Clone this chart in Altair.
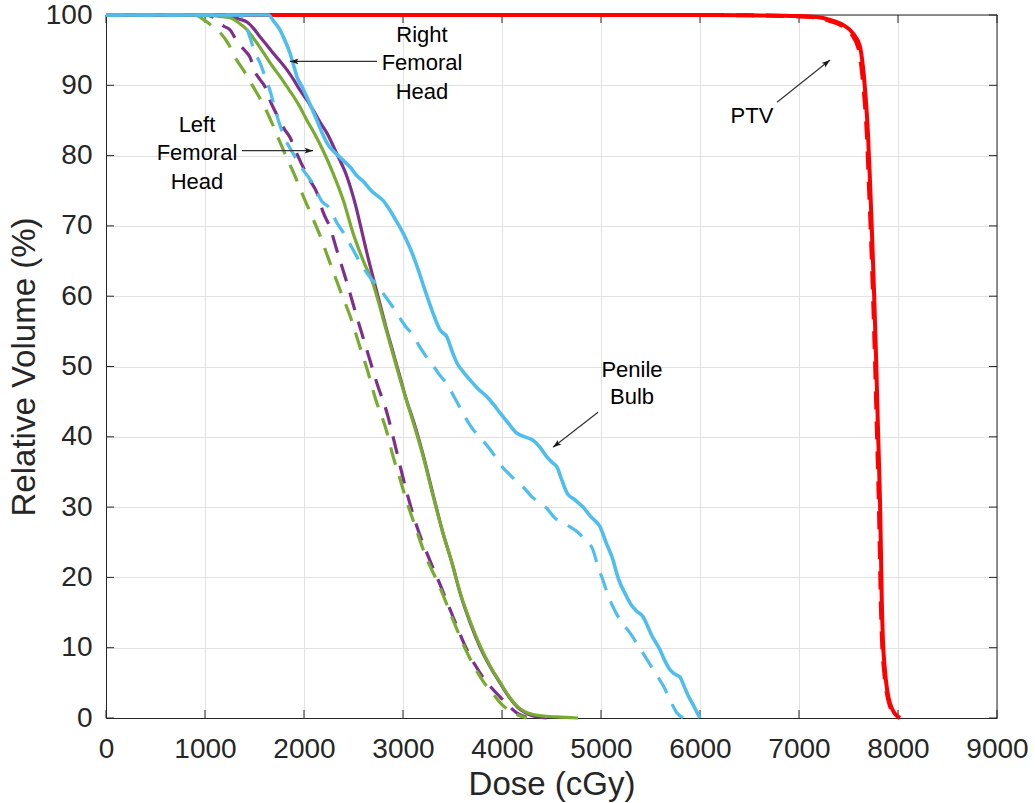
import math
import altair as alt
import pandas as pd

# ---- Dose-volume histogram data (dose in cGy, relative volume in %) ----
# PTV, plan A (solid) and plan B (dashed)
ptv_a_dose = [0, 3000, 6000, 6500, 7000, 7180, 7313, 7444, 7545, 7616, 7646, 7672, 7697,
              7718, 7737, 7757, 7778, 7798, 7818, 7828, 7836, 7848, 7868, 7890, 7919,
              7955, 7990, 8020]
ptv_a_vol = [100, 100, 100, 99.95, 99.85, 99.7, 99.3, 98.6, 97.4, 95.5, 92.6, 88.5, 83.0,
             76.0, 69.0, 61.0, 51.5, 41.0, 31.0, 23.5, 16.8, 11.0, 6.8, 4.0, 2.1,
             0.9, 0.3, 0.0]
ptv_b_dose = [0, 3000, 6000, 6500, 7000, 7180, 7300, 7430, 7530, 7600, 7632, 7660, 7686,
              7706, 7726, 7746, 7767, 7787, 7806, 7817, 7826, 7839, 7860, 7884, 7912,
              7950, 7985, 8015]
ptv_b_vol = [100, 100, 100, 99.95, 99.8, 99.65, 99.2, 98.5, 97.3, 95.3, 92.4, 88.3, 82.8,
             75.8, 68.8, 60.8, 51.2, 40.8, 30.8, 23.2, 16.6, 10.8, 6.6, 3.8, 2.0,
             0.8, 0.25, 0.0]

# Right femoral head
rfh_a_dose = [0, 1100, 1200, 1283, 1350, 1424, 1490, 1555, 1620, 1687, 1760, 1828, 1900,
              1960, 2030, 2091, 2160, 2232, 2330, 2434, 2520, 2596, 2650, 2697, 2760,
              2830, 2900, 2970, 3040, 3100, 3200, 3300, 3400, 3500, 3576, 3680, 3778,
              3880, 3980, 4070, 4152, 4230, 4313, 4400, 4450]
rfh_a_vol = [100, 100, 99.9, 99.7, 99.4, 99.0, 98.1, 96.9, 95.8, 94.6, 93.4, 92.2, 90.7,
             89.3, 87.9, 86.5, 84.8, 83.2, 80.3, 77.0, 73.0, 68.5, 65.3, 62.7, 59.3,
             55.5, 52.0, 48.5, 45.0, 42.5, 37.6, 32.0, 26.5, 21.8, 17.8, 13.5, 10.1,
             7.3, 5.0, 3.0, 1.6, 0.8, 0.3, 0.1, 0.0]
rfh_b_dose = [0, 1000, 1080, 1131, 1190, 1252, 1333, 1400, 1454, 1505, 1556, 1606, 1656,
              1737, 1800, 1858, 1920, 1990, 2060, 2131, 2192, 2262, 2333, 2434, 2535,
              2636, 2737, 2838, 2939, 3040, 3141, 3260, 3374, 3505, 3646, 3730, 3808,
              3900, 3980, 4070, 4152, 4230, 4300]
rfh_b_vol = [100, 100, 99.7, 99.0, 98.4, 97.9, 96.0, 95.0, 94.0, 91.9, 90.8, 89.8, 87.9,
             85.5, 83.8, 82.6, 80.5, 78.4, 76.5, 74.7, 72.0, 69.8, 66.5, 61.9, 57.0,
             52.3, 47.6, 43.4, 37.7, 32.0, 27.2, 22.8, 19.0, 14.4, 9.7, 7.5, 5.8,
             4.2, 3.0, 1.7, 0.7, 0.2, 0.0]

# Left femoral head
lfh_a_dose = [0, 950, 1050, 1150, 1252, 1340, 1424, 1490, 1555, 1620, 1687, 1760, 1828,
              1900, 1960, 2030, 2100, 2190, 2293, 2400, 2495, 2600, 2697, 2760, 2830,
              2900, 2970, 3100, 3200, 3300, 3400, 3500, 3576, 3680, 3778, 3880, 3980,
              4070, 4152, 4230, 4313, 4400, 4550, 4768]
lfh_a_vol = [100, 100, 99.95, 99.8, 99.6, 98.9, 97.9, 96.7, 95.4, 94.0, 92.6, 91.2, 89.8,
             88.3, 86.9, 85.0, 83.3, 80.8, 77.5, 73.5, 69.0, 65.0, 61.8, 58.8, 55.2,
             51.7, 48.2, 42.2, 37.4, 31.8, 26.5, 21.8, 17.9, 13.7, 10.3, 7.4, 5.1,
             3.1, 1.7, 0.9, 0.5, 0.3, 0.15, 0.0]
lfh_b_dose = [0, 900, 960, 1020, 1090, 1151, 1232, 1303, 1404, 1474, 1576, 1656, 1740,
              1828, 1900, 1960, 2030, 2091, 2160, 2230, 2300, 2380, 2470, 2560, 2640,
              2720, 2830, 2900, 2970, 3020, 3120, 3230, 3360, 3490, 3630, 3720, 3820,
              3900, 3980, 4060, 4150, 4250]
lfh_b_vol = [100, 100, 99.6, 99.0, 98.2, 97.5, 96.0, 94.0, 91.8, 90.1, 87.6, 85.3, 82.5,
             79.6, 77.4, 75.3, 73.0, 71.0, 68.7, 66.0, 63.3, 60.3, 57.0, 53.0, 49.5,
             45.5, 41.0, 37.2, 34.0, 31.6, 27.4, 23.0, 19.0, 14.5, 9.8, 7.3, 5.0,
             3.6, 2.2, 1.2, 0.5, 0.0]

# Penile bulb
pb_a_dose = [0, 1640, 1700, 1757, 1810, 1858, 1900, 1929, 1980, 2030, 2080, 2131, 2190,
             2250, 2300, 2360, 2420, 2470, 2530, 2600, 2680, 2750, 2800, 2860, 2920,
             3000, 3060, 3110, 3172, 3230, 3303, 3374, 3444, 3500, 3545, 3610, 3677,
             3760, 3848, 3920, 3980, 4060, 4152, 4230, 4313, 4390, 4455, 4510, 4556,
             4600, 4657, 4740, 4818, 4900, 4990, 5050, 5121, 5160, 5192, 5240, 5300,
             5360, 5424, 5470, 5510, 5560, 5596, 5640, 5690, 5740, 5798, 5840, 5880,
             5930, 5970, 6000]
pb_a_vol = [100, 100, 99.0, 97.9, 96.3, 94.6, 92.6, 91.2, 89.8, 88.3, 86.7, 85.0, 83.0,
            81.4, 80.6, 79.8, 79.0, 78.3, 77.2, 76.3, 75.0, 74.2, 73.6, 72.4, 71.0,
            69.0, 67.2, 65.5, 63.0, 60.5, 57.6, 55.2, 54.2, 52.0, 50.5, 49.2, 48.1,
            46.8, 45.7, 44.5, 43.4, 42.0, 40.5, 40.0, 39.5, 38.4, 37.1, 36.3, 35.7,
            34.0, 32.0, 31.0, 30.0, 28.6, 27.2, 25.0, 22.5, 20.5, 19.2, 17.8, 16.2,
            15.2, 14.4, 13.1, 11.8, 10.6, 9.7, 8.3, 7.0, 6.3, 5.8, 4.5, 3.2,
            1.9, 0.8, 0.0]
pb_b_dose = [0, 1350, 1450, 1505, 1556, 1600, 1656, 1720, 1790, 1890, 1990, 2090, 2180,
             2260, 2330, 2400, 2500, 2570, 2650, 2740, 2820, 2900, 2950, 3020, 3100,
             3160, 3230, 3300, 3370, 3440, 3520, 3600, 3680, 3750, 3810, 3880, 3950,
             4010, 4080, 4150, 4210, 4300, 4380, 4455, 4530, 4600, 4687, 4760, 4830,
             4919, 4970, 5020, 5070, 5121, 5200, 5293, 5380, 5465, 5550, 5636, 5700,
             5768, 5830]
pb_b_vol = [100, 100, 97.0, 94.6, 93.2, 91.5, 89.3, 86.0, 83.0, 80.3, 78.0, 76.0, 73.5,
            72.5, 70.5, 69.0, 66.5, 64.7, 63.0, 61.5, 60.0, 58.4, 57.3, 55.8, 54.5,
            53.0, 51.5, 50.2, 48.8, 47.6, 45.6, 43.5, 41.6, 40.3, 39.4, 38.2, 36.8,
            35.6, 34.6, 33.6, 32.9, 31.5, 30.6, 29.8, 28.5, 27.8, 27.2, 26.5, 25.5,
            23.9, 21.5, 19.6, 17.5, 15.8, 13.8, 12.1, 10.2, 8.3, 6.4, 4.4, 2.5,
            0.7, 0.0]

# (name, doses, volumes, colour, dashed, width) in drawing order
series = [
    ("PTV A", ptv_a_dose, ptv_a_vol, "#FF0000", False, 4.0),
    ("PTV B", ptv_b_dose, ptv_b_vol, "#FF0000", True, 4.0),
    ("RFH A", rfh_a_dose, rfh_a_vol, "#7E2F8E", False, 3.2),
    ("RFH B", rfh_b_dose, rfh_b_vol, "#7E2F8E", True, 3.2),
    ("LFH A", lfh_a_dose, lfh_a_vol, "#77AC30", False, 3.2),
    ("LFH B", lfh_b_dose, lfh_b_vol, "#77AC30", True, 3.2),
    ("PB B", pb_b_dose, pb_b_vol, "#4DBEEE", True, 3.2),
    ("PB A", pb_a_dose, pb_a_vol, "#4DBEEE", False, 3.6),
]

# Annotation labels (one row per text line) and arrows (tail -> head)
label_text = ["Right", "Femoral", "Head", "Left", "Femoral", "Head", "Penile", "Bulb", "PTV"]
label_dose = [3192, 3192, 3192, 919, 919, 919, 5313, 5313, 6525]
label_vol = [97.2, 93.2, 89.0, 84.4, 80.4, 76.2, 49.5, 45.7, 85.6]

arrow_tail_dose = [2737, 1374, 4970, 6778]
arrow_tail_vol = [93.4, 80.7, 43.5, 87.6]
arrow_head_dose = [1859, 2091, 4515, 7313]
arrow_head_vol = [93.4, 80.7, 38.5, 93.6]

x_ticks = list(range(0, 9001, 1000))
y_ticks = list(range(0, 101, 10))

# ---- Layout ----
W, H = 891, 703
X_MAX, Y_MAX = 9000, 100
FONT = "Liberation Sans"
INK = "#262626"

x_enc = alt.X(
    "dose:Q",
    scale=alt.Scale(domain=[0, X_MAX], nice=False, zero=False),
    axis=alt.Axis(
        values=x_ticks, format="d", title="Dose (cGy)", grid=True, ticks=False,
        tickSize=0, labelFontSize=28, labelBaseline="alphabetic", labelPadding=39,
        labelFlush=False, titleFontSize=33, titleX=W / 2, titleY=76,
        titleBaseline="alphabetic", titleAlign="center",
    ),
)
y_enc = alt.Y(
    "vol:Q",
    scale=alt.Scale(domain=[0, Y_MAX], nice=False, zero=False),
    axis=alt.Axis(
        values=y_ticks, format="d", title="Relative Volume (%)", grid=True,
        ticks=False, tickSize=0, labelFontSize=28, labelPadding=14,
        labelFlush=False, labelBaseline="middle", titleFontSize=33,
        titleAngle=270, titleX=-72, titleY=H / 2, titleBaseline="alphabetic",
        titleAlign="center",
    ),
)

layers = []

# Top and right edges of the axes box, drawn beneath the curves
layers.append(alt.Chart(pd.DataFrame({"dose": [0]})).mark_rule(
    color=INK, strokeWidth=1).encode(x=alt.value(0), x2=alt.value(W), y=alt.value(0)))
layers.append(alt.Chart(pd.DataFrame({"dose": [0]})).mark_rule(
    color=INK, strokeWidth=1).encode(x=alt.value(W), y=alt.value(0), y2=alt.value(H)))

# Inward tick marks on all four sides of the box
xt = pd.DataFrame({"dose": x_ticks})
yt = pd.DataFrame({"vol": y_ticks})
TL = 8
layers.append(alt.Chart(xt).mark_rule(color=INK, strokeWidth=1).encode(
    x=x_enc, y=alt.value(H), y2=alt.value(H - TL)))
layers.append(alt.Chart(xt).mark_rule(color=INK, strokeWidth=1).encode(
    x=x_enc, y=alt.value(0), y2=alt.value(TL)))
layers.append(alt.Chart(yt).mark_rule(color=INK, strokeWidth=1).encode(
    y=y_enc, x=alt.value(0), x2=alt.value(TL)))
layers.append(alt.Chart(yt).mark_rule(color=INK, strokeWidth=1).encode(
    y=y_enc, x=alt.value(W - TL), x2=alt.value(W)))

for name, d, v, col, dashed, w in series:
    df = pd.DataFrame({"dose": d, "vol": v})
    mk = dict(color=col, strokeWidth=w, interpolate="monotone", clip=False)
    if dashed:
        mk["strokeDash"] = [18, 12]
    layers.append(alt.Chart(df).mark_line(**mk).encode(x=x_enc, y=y_enc))

# Annotation text
lab = pd.DataFrame({"dose": label_dose, "vol": label_vol, "txt": label_text})
layers.append(alt.Chart(lab).mark_text(
    font=FONT, fontSize=22, color="#000000", align="center", baseline="middle"
).encode(x=x_enc, y=y_enc, text="txt:N"))

# Arrows: shaft plus a rotated arrowhead at the head point
px_per_dose = W / X_MAX
px_per_vol = H / Y_MAX
angles = []
for td, tv, hd, hv in zip(arrow_tail_dose, arrow_tail_vol, arrow_head_dose, arrow_head_vol):
    dx = (hd - td) * px_per_dose
    dy = -(hv - tv) * px_per_vol
    angles.append(math.degrees(math.atan2(dx, -dy)) % 360)

arr = pd.DataFrame({
    "dose": arrow_tail_dose, "vol": arrow_tail_vol,
    "dose2": arrow_head_dose, "vol2": arrow_head_vol,
})
layers.append(alt.Chart(arr).mark_rule(color="#333333", strokeWidth=1.2).encode(
    x=x_enc, y=y_enc, x2="dose2:Q", y2="vol2:Q"))

heads = pd.DataFrame({"dose": arrow_head_dose, "vol": arrow_head_vol, "ang": angles})
layers.append(alt.Chart(heads).mark_point(
    shape="M0,0 L0.55,1.6 L0,1.25 L-0.55,1.6 Z", filled=True, size=110,
    color="#1a1a1a", opacity=1, strokeWidth=0,
).encode(x=x_enc, y=y_enc, angle=alt.Angle("ang:Q", scale=None)))

chart = alt.layer(*layers).properties(
    width=W,
    height=H,
    autosize=alt.AutoSizeParams(type="none"),
    padding={"left": 106, "top": 15, "right": 38, "bottom": 85},
    background="white",
).configure_view(
    strokeWidth=0
).configure_axis(
    labelFont=FONT, titleFont=FONT, labelColor=INK, titleColor=INK,
    titleFontWeight="normal", domainColor=INK, domainWidth=1,
    gridColor="#e2e2e2", gridWidth=1,
)

chart.save("out.html", embed_options={"renderer": "svg", "actions": False})
